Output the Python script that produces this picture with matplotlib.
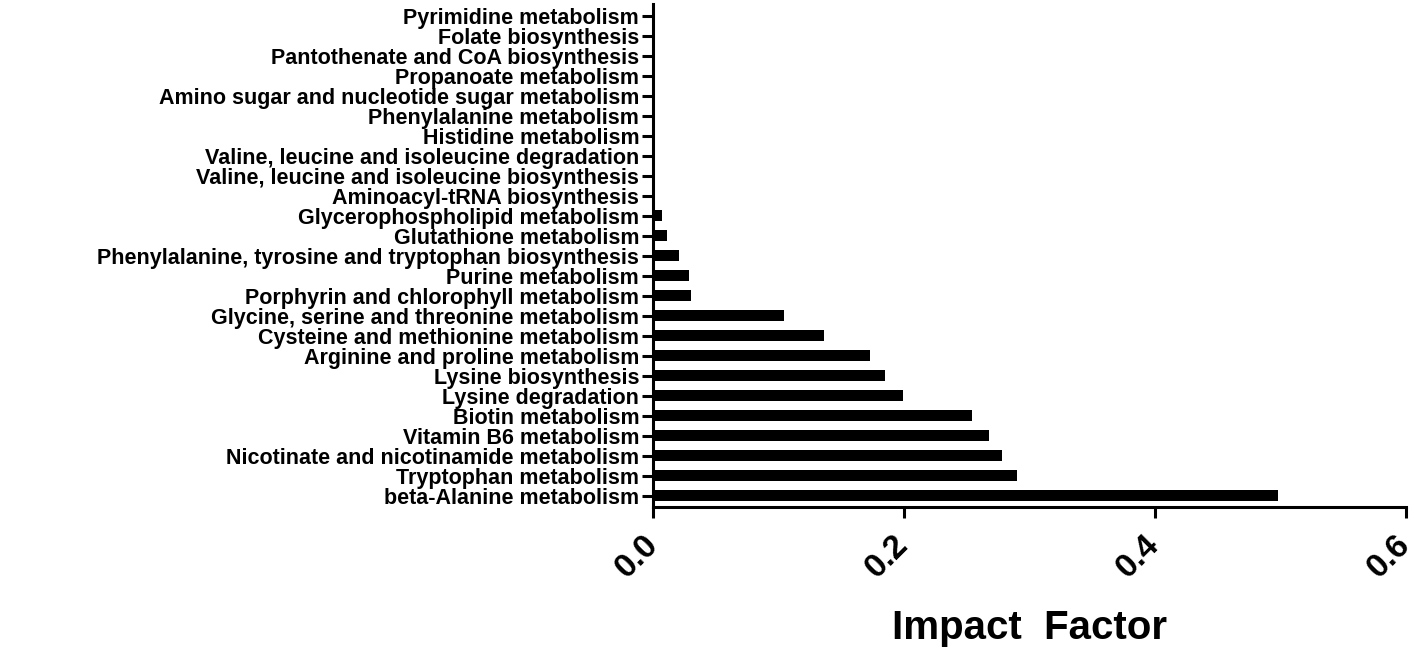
import matplotlib.pyplot as plt

pathways = [
    "beta-Alanine metabolism",
    "Tryptophan metabolism",
    "Nicotinate and nicotinamide metabolism",
    "Vitamin B6 metabolism",
    "Biotin metabolism",
    "Lysine degradation",
    "Lysine biosynthesis",
    "Arginine and proline metabolism",
    "Cysteine and methionine metabolism",
    "Glycine, serine and threonine metabolism",
    "Porphyrin and chlorophyll metabolism",
    "Purine metabolism",
    "Phenylalanine, tyrosine and tryptophan biosynthesis",
    "Glutathione metabolism",
    "Glycerophospholipid metabolism",
    "Aminoacyl-tRNA biosynthesis",
    "Valine, leucine and isoleucine biosynthesis",
    "Valine, leucine and isoleucine degradation",
    "Histidine metabolism",
    "Phenylalanine metabolism",
    "Amino sugar and nucleotide sugar metabolism",
    "Propanoate metabolism",
    "Pantothenate and CoA biosynthesis",
    "Folate biosynthesis",
    "Pyrimidine metabolism",
]
impact = [0.498, 0.290, 0.278, 0.268, 0.254, 0.199, 0.185, 0.173, 0.136, 0.104,
          0.030, 0.029, 0.021, 0.011, 0.007, 0, 0, 0, 0, 0, 0, 0, 0, 0, 0]
xticks = [0.0, 0.2, 0.4, 0.6]

fig = plt.figure(figsize=(14.15, 6.5), dpi=100)
ax = fig.add_axes([0.4615, 0.22, 0.532, 0.774])

pos = list(range(len(pathways)))
ax.barh(pos, impact, height=0.55, color="black")

ax.set_ylim(-0.55, 24.6)
ax.set_xlim(0, 0.6)
ax.set_yticks(pos)
ax.set_yticklabels(pathways, fontsize=15.5, fontweight="bold", family="Liberation Sans")
ax.set_xticks(xticks)
ax.set_xticklabels([f"{t:.1f}" for t in xticks], fontsize=24, fontweight="bold",
                   family="Liberation Sans", rotation=45, ha="right", va="center",
                   rotation_mode="anchor")
ax.set_xlabel("Impact  Factor", fontsize=29, fontweight="bold", family="Liberation Sans",
              labelpad=18)

for s in ["top", "right"]:
    ax.spines[s].set_visible(False)
for s in ["left", "bottom"]:
    ax.spines[s].set_linewidth(2.2)
ax.tick_params(axis="both", width=2.2, length=8)
ax.tick_params(axis="y", pad=2)
ax.tick_params(axis="x", pad=16)

fig.savefig("out.png", dpi=100)
